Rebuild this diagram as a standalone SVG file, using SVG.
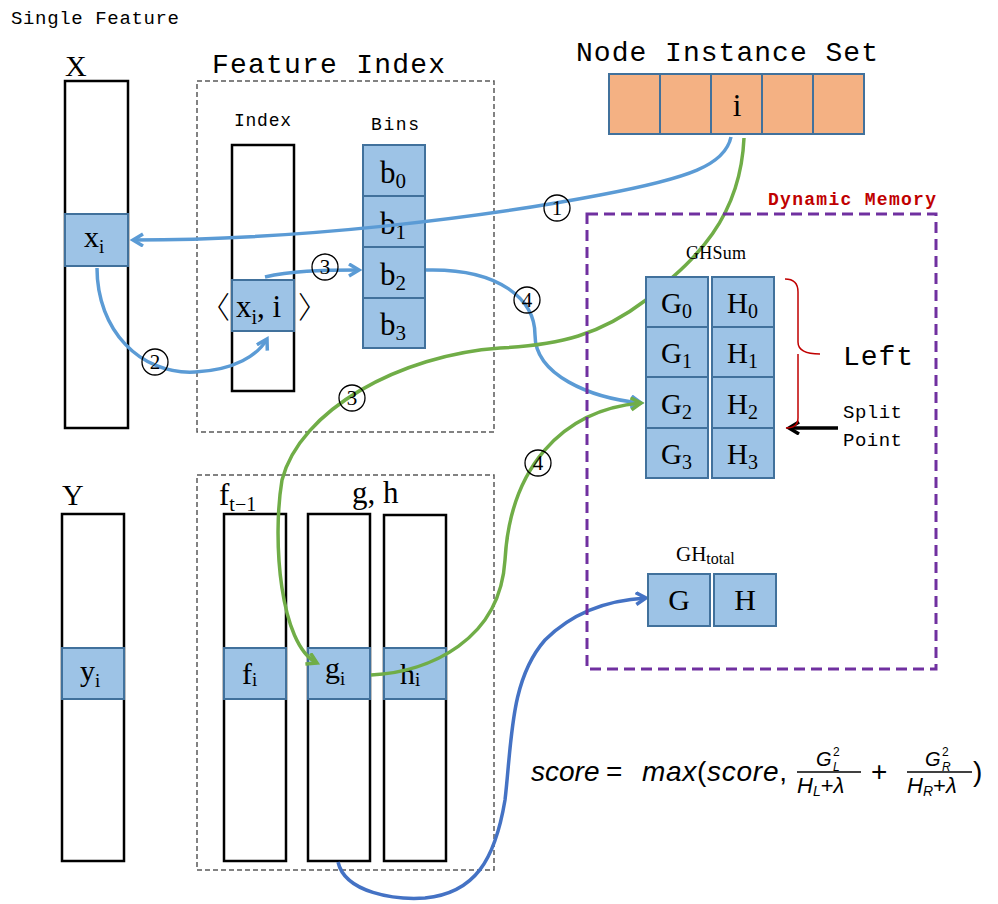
<svg xmlns="http://www.w3.org/2000/svg" width="998" height="904" viewBox="0 0 998 904">
<defs>
<style>
.mono{font-family:"Liberation Mono","DejaVu Sans Mono",monospace;fill:#000}
.ser{font-family:"Liberation Serif","DejaVu Serif",serif;fill:#000}
.col{fill:#fff;stroke:#000;stroke-width:2.5}
.cell{fill:#9DC3E6;stroke:#41719C;stroke-width:2}
.org{fill:#F4B183;stroke:#41719C;stroke-width:2}
.gbox{fill:none;stroke:#595959;stroke-width:1.5;stroke-dasharray:5 3}
.pbox{fill:none;stroke:#7030A0;stroke-width:3;stroke-dasharray:11 6}
.lb{fill:none;stroke:#5B9BD5;stroke-width:3.5}
.lg{fill:none;stroke:#70AD47;stroke-width:3.5}
.ld{fill:none;stroke:#4472C4;stroke-width:3.5}
.num circle{fill:none;stroke:#000;stroke-width:1.3}
.num text{font-family:"Liberation Serif",serif;font-size:21px;text-anchor:middle}
.fm{font-family:"Liberation Sans","DejaVu Sans",sans-serif;fill:#000}
</style>
<marker id="ab" markerUnits="userSpaceOnUse" markerWidth="16" markerHeight="16" refX="11" refY="7" orient="auto"><path d="M1,1 L11,7 L1,13" fill="none" stroke="#5B9BD5" stroke-width="3.5"/></marker>
<marker id="ag" markerUnits="userSpaceOnUse" markerWidth="16" markerHeight="16" refX="11" refY="7" orient="auto"><path d="M1,1 L11,7 L1,13" fill="none" stroke="#70AD47" stroke-width="3.5"/></marker>
<marker id="ad" markerUnits="userSpaceOnUse" markerWidth="16" markerHeight="16" refX="11" refY="7" orient="auto"><path d="M1,1 L11,7 L1,13" fill="none" stroke="#4472C4" stroke-width="3.5"/></marker>
<marker id="ak" markerUnits="userSpaceOnUse" markerWidth="16" markerHeight="16" refX="11" refY="7" orient="auto"><path d="M1,1 L11,7 L1,13" fill="none" stroke="#000" stroke-width="3.5"/></marker>
</defs>
<rect width="998" height="904" fill="#fff"/>

<text class="mono" x="11" y="24" font-size="19" textLength="168">Single Feature</text>

<g id="X">
<text class="ser" x="65" y="76" font-size="30">X</text>
<rect class="col" x="65" y="81" width="63" height="347"/>
<rect class="cell" x="65" y="214" width="63" height="52"/>
<text class="ser" x="84" y="247" font-size="30">x<tspan font-size="19" dy="6">i</tspan></text>
</g>

<g id="FeatureIndex">
<text class="mono" x="212" y="73" font-size="28" textLength="233">Feature Index</text>
<rect class="gbox" x="197" y="81" width="297" height="351"/>
<text class="mono" x="234" y="126" font-size="18" textLength="57">Index</text>
<text class="mono" x="371" y="130" font-size="18" textLength="48">Bins</text>
<rect class="col" x="232" y="145" width="62" height="246"/>
<rect class="cell" x="232" y="280" width="62" height="51"/>
<text x="215" y="318" font-size="30" text-anchor="middle" font-family="Noto Sans CJK SC,sans-serif" font-weight="300">〈</text>
<text x="313" y="318" font-size="30" text-anchor="middle" font-family="Noto Sans CJK SC,sans-serif" font-weight="300">〉</text>
<text class="ser" x="236" y="317" font-size="31">x<tspan font-size="20" dy="7">i</tspan><tspan dy="-7">, i</tspan></text>
</g>

<g id="Bins">
<rect class="cell" x="363" y="145" width="62" height="51"/>
<rect class="cell" x="363" y="196" width="62" height="51"/>
<rect class="cell" x="363" y="247" width="62" height="51"/>
<rect class="cell" x="363" y="298" width="62" height="50"/>
<text class="ser" x="380" y="183" font-size="31">b<tspan font-size="21" dy="5">0</tspan></text>
<text class="ser" x="380" y="234" font-size="31">b<tspan font-size="21" dy="5">1</tspan></text>
<text class="ser" x="380" y="285" font-size="31">b<tspan font-size="21" dy="5">2</tspan></text>
<text class="ser" x="380" y="335" font-size="31">b<tspan font-size="21" dy="5">3</tspan></text>
</g>

<g id="NodeInstanceSet">
<text class="mono" x="576" y="61" font-size="28" textLength="302">Node Instance Set</text>
<rect class="org" x="609" y="74" width="51" height="60"/>
<rect class="org" x="660" y="74" width="51" height="60"/>
<rect class="org" x="711" y="74" width="51" height="60"/>
<rect class="org" x="762" y="74" width="51" height="60"/>
<rect class="org" x="813" y="74" width="51" height="60"/>
<text class="ser" x="737" y="116" font-size="31" text-anchor="middle">i</text>
</g>

<g id="Y">
<text class="ser" x="62" y="505" font-size="30">Y</text>
<rect class="col" x="62" y="514" width="62" height="347"/>
<rect class="cell" x="62" y="648" width="62" height="51"/>
<text class="ser" x="80" y="681" font-size="30">y<tspan font-size="19" dy="6">i</tspan></text>
</g>

<g id="Gradients">
<rect class="gbox" x="197" y="475" width="297" height="395"/>
<text class="ser" x="219" y="505" font-size="31">f<tspan font-size="20" dy="6">t−1</tspan></text>
<text class="ser" x="352" y="503" font-size="31">g, h</text>
<rect class="col" x="224" y="514" width="62" height="347"/>
<rect class="cell" x="224" y="648" width="62" height="51"/>
<text class="ser" x="242" y="684" font-size="30">f<tspan font-size="19" dy="2">i</tspan></text>
<rect class="col" x="308" y="514" width="62" height="347"/>
<rect class="cell" x="308" y="648" width="62" height="51"/>
<text class="ser" x="325" y="678" font-size="30">g<tspan font-size="19" dy="7">i</tspan></text>
<rect class="col" x="384" y="515" width="62" height="346"/>
<rect class="cell" x="384" y="648" width="62" height="51"/>
<text class="ser" x="400" y="684" font-size="30">h<tspan font-size="19" dy="2">i</tspan></text>
</g>

<g id="connectors">
<path class="lb" d="M731,137 C725,165 690,178 600,195 C480,218 300,240 133,240" marker-end="url(#ab)"/>
<path class="lb" d="M97,268 C97,330 140,375 195,372 C235,370 258,355 267,339" marker-end="url(#ab)"/>
<path class="lb" d="M265,277 C290,271 320,270 359,270" marker-end="url(#ab)"/>
<path class="lb" d="M426,270 C500,268 535,300 535,335 C535,375 590,398 641,403" marker-end="url(#ab)"/>
<path class="lg" d="M744,138 C740,230 680,270 646,300 C600,335 560,345 500,348 C400,355 300,410 282,480 C272,540 280,645 317,663" marker-end="url(#ag)"/>
<path class="lg" d="M371,675 C430,672 500,640 505,560 C510,470 560,410 641,403" marker-end="url(#ag)"/>
<path class="ld" d="M338,862 C345,893 395,900 425,898 C475,893 495,860 505,800 C512,740 510,680 545,640 C575,610 610,600 646,598" marker-end="url(#ad)"/>
<path d="M838,428 L789,428" fill="none" stroke="#000" stroke-width="3.5" marker-end="url(#ak)"/>
<g class="num">
<circle cx="557" cy="208" r="13"/><text x="557" y="215">1</text>
<circle cx="155" cy="362" r="13"/><text x="155" y="369">2</text>
<circle cx="325" cy="267" r="13"/><text x="325" y="274">3</text>
<circle cx="527" cy="300" r="13"/><text x="527" y="307">4</text>
<circle cx="352" cy="398" r="13"/><text x="352" y="405">3</text>
<circle cx="538" cy="463" r="13"/><text x="538" y="470">4</text>
</g>
</g>

<g id="DynamicMemory">
<rect class="pbox" x="587" y="214" width="349" height="455"/>
<text class="mono" x="768" y="205" font-size="18" font-weight="bold" style="fill:#C00000" textLength="168">Dynamic Memory</text>
</g>

<g id="GHSum">
<text class="ser" x="686" y="259" font-size="18" textLength="60">GHSum</text>
<rect class="cell" x="646" y="277" width="62" height="50"/>
<rect class="cell" x="646" y="327" width="62" height="50"/>
<rect class="cell" x="646" y="377" width="62" height="51"/>
<rect class="cell" x="646" y="428" width="62" height="50"/>
<rect class="cell" x="712" y="277" width="62" height="50"/>
<rect class="cell" x="712" y="327" width="62" height="50"/>
<rect class="cell" x="712" y="377" width="62" height="51"/>
<rect class="cell" x="712" y="428" width="62" height="50"/>
<text class="ser" x="661" y="313" font-size="29">G<tspan font-size="20" dy="5">0</tspan></text>
<text class="ser" x="661" y="363" font-size="29">G<tspan font-size="20" dy="5">1</tspan></text>
<text class="ser" x="661" y="414" font-size="29">G<tspan font-size="20" dy="5">2</tspan></text>
<text class="ser" x="661" y="464" font-size="29">G<tspan font-size="20" dy="5">3</tspan></text>
<text class="ser" x="727" y="313" font-size="29">H<tspan font-size="20" dy="5">0</tspan></text>
<text class="ser" x="727" y="363" font-size="29">H<tspan font-size="20" dy="5">1</tspan></text>
<text class="ser" x="727" y="414" font-size="29">H<tspan font-size="20" dy="5">2</tspan></text>
<text class="ser" x="727" y="464" font-size="29">H<tspan font-size="20" dy="5">3</tspan></text>
<path d="M785,279 Q798,279 798,292 L798,342 Q798,354 820,354 M798,354 Q798,354 798,366 L798,418 Q798,428 786,428" fill="none" stroke="#C00000" stroke-width="1.5"/>
<text class="mono" x="843" y="365" font-size="28" textLength="70">Left</text>
<text class="mono" x="843" y="418" font-size="19" textLength="59">Split</text>
<text class="mono" x="843" y="446" font-size="19" textLength="59">Point</text>
</g>

<g id="GHtotal">
<text class="ser" x="676" y="561" font-size="21">GH<tspan font-size="16" dy="3">total</tspan></text>
<rect class="cell" x="648" y="574" width="62" height="52"/>
<rect class="cell" x="714" y="574" width="62" height="52"/>
<text class="ser" x="679" y="610" font-size="30" text-anchor="middle">G</text>
<text class="ser" x="745" y="610" font-size="30" text-anchor="middle">H</text>
</g>

<g id="formula" class="fm">
<text x="531" y="781" font-size="28" font-style="italic">score</text>
<text x="606" y="781" font-size="28">=</text>
<text x="642" y="781" font-size="28" textLength="145"><tspan font-style="italic">max</tspan>(<tspan font-style="italic">score</tspan>,</text>
<text x="816" y="766" font-size="20" font-style="italic">G</text>
<text x="833" y="756" font-size="12">2</text>
<text x="833" y="771" font-size="12" font-style="italic">L</text>
<line x1="797" y1="772" x2="861" y2="772" stroke="#000" stroke-width="1.3"/>
<text x="797" y="793" font-size="22"><tspan font-style="italic">H</tspan><tspan font-size="14" font-style="italic" dy="3">L</tspan><tspan dy="-3">+</tspan><tspan font-style="italic">λ</tspan></text>
<text x="871" y="781" font-size="28">+</text>
<text x="925" y="766" font-size="20" font-style="italic">G</text>
<text x="942" y="756" font-size="12">2</text>
<text x="942" y="771" font-size="12" font-style="italic">R</text>
<line x1="907" y1="772" x2="972" y2="772" stroke="#000" stroke-width="1.3"/>
<text x="907" y="793" font-size="22"><tspan font-style="italic">H</tspan><tspan font-size="14" font-style="italic" dy="3">R</tspan><tspan dy="-3">+</tspan><tspan font-style="italic">λ</tspan></text>
<text x="973" y="781" font-size="28">)</text>
</g>
</svg>
